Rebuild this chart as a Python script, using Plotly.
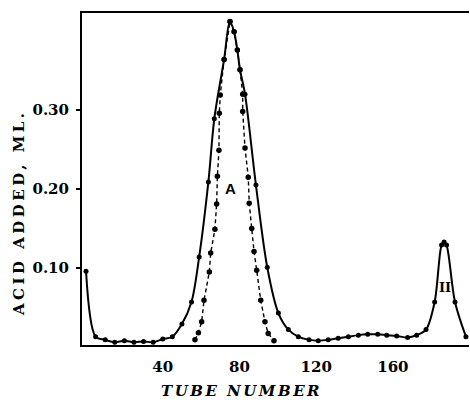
import plotly.graph_objects as go

# Titration of fractions: acid added per tube (solid curve, observed)
tube_solid = [0, 5, 10, 15, 20, 25, 30, 35, 40, 45, 50, 55, 59,
              63.8, 66.9, 72, 75, 77.2, 78.9, 80.3, 82.9, 88.6,
              94.5, 100.3, 105.5, 110.7, 116.3, 121.1, 126.3, 131.5, 136.8,
              142, 146.9, 152.1, 156.8, 162, 167.7, 172.4, 177.3, 181.8,
              185.4, 186.7, 188.0, 192.4, 198.1]
acid_solid = [0.096, 0.013, 0.009, 0.006, 0.008, 0.006, 0.007, 0.006, 0.010,
              0.013, 0.029, 0.057, 0.114,
              0.209, 0.289, 0.364, 0.412, 0.399, 0.376, 0.351, 0.320, 0.205,
              0.101, 0.043, 0.022, 0.013, 0.009, 0.008, 0.009, 0.011, 0.013,
              0.015, 0.016, 0.016, 0.015, 0.014, 0.012, 0.015, 0.022, 0.057,
              0.129, 0.133, 0.129, 0.057, 0.013]

# Narrow band (dashed curve)
tube_dash = [56.8, 58.6, 60.3, 61.5, 64.3, 65.0, 67.2, 68.1, 68.5, 69.3,
             69.5, 70.0, 72.0, 75.1, 77.2, 78.9, 80.3, 81.7, 81.7, 82.9,
             84.6, 85.1, 86.4, 87.6, 89.0, 91.1, 93.3, 95.0, 98.0]
acid_dash = [0.009, 0.018, 0.032, 0.059, 0.095, 0.119, 0.149, 0.181, 0.216,
             0.249, 0.296, 0.319, 0.364, 0.412, 0.399, 0.376, 0.351, 0.320,
             0.298, 0.252, 0.215, 0.182, 0.150, 0.121, 0.097, 0.059, 0.032,
             0.017, 0.008]

x_ticks = [40, 80, 120, 160]
x_ticktext = ["40", "80", "120", "160"]
y_ticks = [0.10, 0.20, 0.30]
y_ticktext = ["0.10", "0.20", "0.30"]

# Peak labels
peak_labels = ["A", "II"]
peak_label_x = [75.1, 187.2]
peak_label_y = [0.200, 0.075]

serif = "DejaVu Serif"

fig = go.Figure()
fig.add_trace(go.Scatter(
    x=tube_dash, y=acid_dash, mode="lines+markers",
    line=dict(color="black", width=1.4, dash="4px,3px"),
    marker=dict(color="black", size=5.5),
))
fig.add_trace(go.Scatter(
    x=tube_solid, y=acid_solid, mode="lines+markers",
    line=dict(color="black", width=2, shape="spline", smoothing=0.9),
    marker=dict(color="black", size=5),
))

fig.add_annotation(x=peak_label_x[0], y=peak_label_y[0], text=peak_labels[0],
                   showarrow=False,
                   font=dict(family="Liberation Sans", size=15, color="black", weight="bold"))
fig.add_annotation(x=peak_label_x[1], y=peak_label_y[1], text=peak_labels[1],
                   showarrow=False,
                   font=dict(family=serif, size=13, color="black", weight="bold"))

# Axis titles
fig.add_annotation(xref="paper", yref="paper", x=0.413, y=-0.138,
                   text='<span style="letter-spacing:2.5px">TUBE NUMBER</span>',
                   showarrow=False, xanchor="center", yanchor="middle",
                   font=dict(family=serif, size=15, color="black", weight="bold", style="italic"))
fig.add_annotation(xref="paper", yref="paper", x=-0.163, y=0.40,
                   text='<span style="letter-spacing:3.5px">ACID ADDED, ML.</span>',
                   textangle=-90, showarrow=False, xanchor="center", yanchor="middle",
                   font=dict(family=serif, size=15, color="black", weight="bold"))

fig.update_layout(
    width=470, height=402,
    margin=dict(l=82, r=1, t=13, b=57),
    paper_bgcolor="white", plot_bgcolor="white",
    showlegend=False,
)
fig.update_xaxes(
    range=[-2.1, 199.7], tickvals=x_ticks, ticktext=x_ticktext,
    ticks="", showline=True, linecolor="black", linewidth=2, mirror=True,
    showgrid=False, zeroline=False, ticklabelstandoff=7,
    tickfont=dict(family=serif, size=15, color="black", weight="bold"),
)
fig.update_yaxes(
    range=[0.0025, 0.4228], tickvals=y_ticks, ticktext=y_ticktext,
    ticks="outside", ticklen=4, tickcolor="black", tickwidth=1.5,
    showline=True, linecolor="black", linewidth=2,
    showgrid=False, zeroline=False, ticklabelstandoff=4,
    tickfont=dict(family=serif, size=15, color="black", weight="bold"),
)

fig.write_html("out.html")
